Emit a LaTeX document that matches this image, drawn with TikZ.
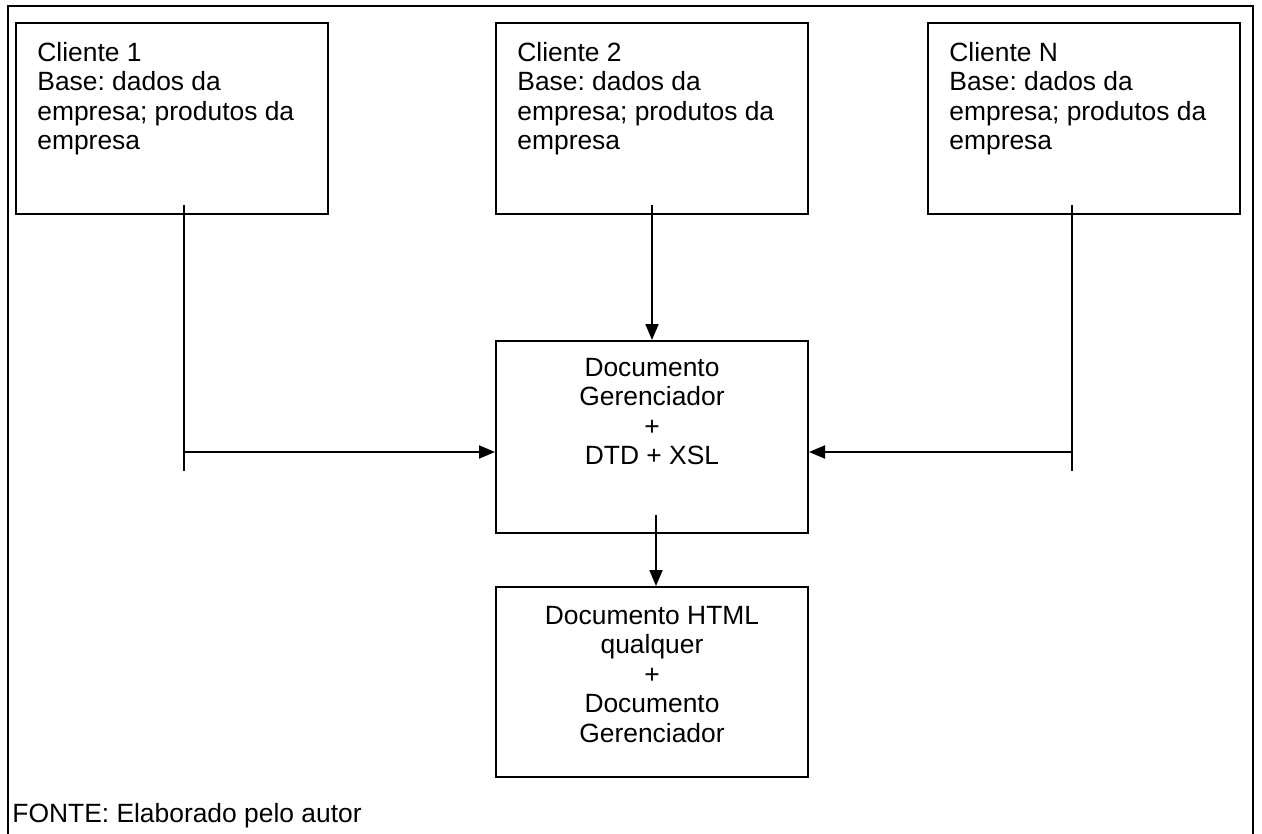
\documentclass[tikz,border=0pt]{standalone}
\usepackage{fontspec}
\setmainfont{Liberation Sans}
\frenchspacing
\usepackage{tikz}
\usetikzlibrary{arrows.meta}
\tikzset{
  caixa/.style={draw, line width=1pt, inner sep=0pt, minimum width=156pt, minimum height=95.5pt},
  texto/.style={inner sep=0pt, font=\fontsize{13.2}{14.7}\selectfont},
  linha/.style={line width=1pt, black},
  seta/.style={line width=1pt, black, -{Triangle[length=8pt,width=6.5pt]}},
}

\begin{document}
\begin{tikzpicture}[x=0.5pt, y=-0.5pt]
\useasboundingbox (0,0) rectangle (1262,834);
\draw[linha] (8,834) -- (8,6) -- (1253,6) -- (1253,834);
% clientes
\node[caixa] (c1) at (171.5,118.5) {};
\node[caixa] (c2) at (651.5,118.5) {};
\node[caixa] (cn) at (1084,118.5) {};
\node[texto, anchor=north west, align=left] (c1t) at (37,42) {Cliente 1\\Base: dados da\\empresa; produtos da\\empresa};
\node[texto, anchor=north west, align=left] (c2t) at (517,42) {Cliente 2\\Base: dados da\\empresa; produtos da\\empresa};
\node[texto, anchor=north west, align=left] (cnt) at (949,42) {Cliente N\\Base: dados da\\empresa; produtos da\\empresa};
% gerenciador e saida
\node[caixa, minimum height=96pt] (ger) at (652,437) {};
\node[texto, anchor=north, align=center] (gert) at (652,358) {Documento\\Gerenciador\\+\\DTD + XSL};
\node[caixa, minimum height=95pt] (html) at (652,682) {};
\node[texto, anchor=north, align=center] (htmlt) at (652,606) {Documento HTML\\qualquer\\+\\Documento\\Gerenciador};
% ligacoes
\coordinate (t1) at (184,205);
\coordinate (j1) at (184,452);
\coordinate (e1) at (184,471);
\coordinate (t2) at (652,205);
\coordinate (tn) at (1072,205);
\coordinate (jn) at (1072,452);
\coordinate (en) at (1072,471);
\coordinate (t4) at (656,515);
\draw[linha] (t1) -- (e1);
\draw[seta] (j1) -- (j1 -| ger.west);
\draw[linha] (tn) -- (en);
\draw[seta] (jn) -- (jn -| ger.east);
\draw[seta] (t2) -- (ger.north);
\draw[seta] (t4) -- (t4 |- html.north);
\node[texto, anchor=base west] (fonte) at (12,822) {FONTE: Elaborado pelo autor};
\end{tikzpicture}
\end{document}
